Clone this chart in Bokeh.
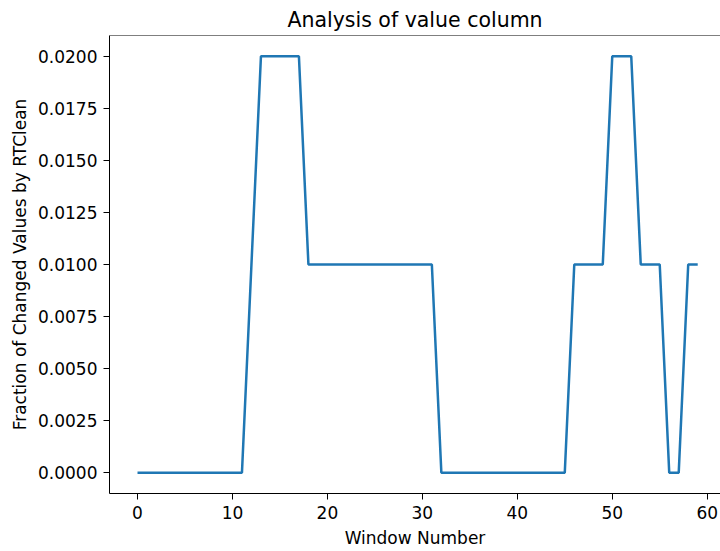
from bokeh.plotting import figure
from bokeh.models import FixedTicker, PrintfTickFormatter, Span, Range1d
from bokeh.embed import file_html
from bokeh.resources import INLINE

window = list(range(60))
fraction = [0.0]*12 + [0.01] + [0.02]*5 + [0.01]*14 + [0.0]*14 + [0.01]*4 + [0.02]*3 + [0.01]*3 + [0.0]*2 + [0.01]*2
x_ticks = [0, 10, 20, 30, 40, 50, 60]
y_ticks = [0.0, 0.0025, 0.005, 0.0075, 0.01, 0.0125, 0.015, 0.0175, 0.02]

FONT = "DejaVu Sans"

p = figure(width=720, height=551, output_backend="svg", toolbar_location=None,
           x_range=Range1d(-2.95, 61.4), y_range=Range1d(-0.001, 0.021),
           min_border_left=109, min_border_right=0, min_border_top=35, min_border_bottom=58,
           title="Analysis of value column")
p.title.align = "center"
p.title.text_font = FONT
p.title.text_font_size = "20.5px"
p.title.text_font_style = "normal"
p.title.text_color = "black"
p.title.standoff = 8

p.line(window, fraction, line_color="#1f77b4", line_width=2.5)

p.xgrid.visible = False
p.ygrid.visible = False
p.outline_line_color = None
p.add_layout(Span(location=0.021, dimension="width", line_color="black", line_width=1))

for ax in (p.xaxis[0], p.yaxis[0]):
    ax.axis_line_color = "black"
    ax.axis_line_width = 1
    ax.major_tick_line_color = "black"
    ax.major_tick_line_width = 1
    ax.major_tick_in = 0
    ax.major_tick_out = 6
    ax.minor_tick_line_color = None
    ax.major_label_text_font = FONT
    ax.major_label_text_font_size = "17px"
    ax.major_label_text_color = "black"
    ax.major_label_standoff = 6
    ax.axis_label_text_font = FONT
    ax.axis_label_text_font_size = "17px"
    ax.axis_label_text_font_style = "normal"
    ax.axis_label_text_color = "black"

p.xaxis.ticker = FixedTicker(ticks=x_ticks)
p.yaxis.ticker = FixedTicker(ticks=y_ticks)
p.yaxis.formatter = PrintfTickFormatter(format="%.4f")
p.xaxis.axis_label = "Window Number"
p.yaxis.axis_label = "Fraction of Changed Values by RTClean"
p.xaxis.axis_label_standoff = 6
p.yaxis.axis_label_standoff = 5

open("out.html", "w").write(file_html(p, INLINE))
